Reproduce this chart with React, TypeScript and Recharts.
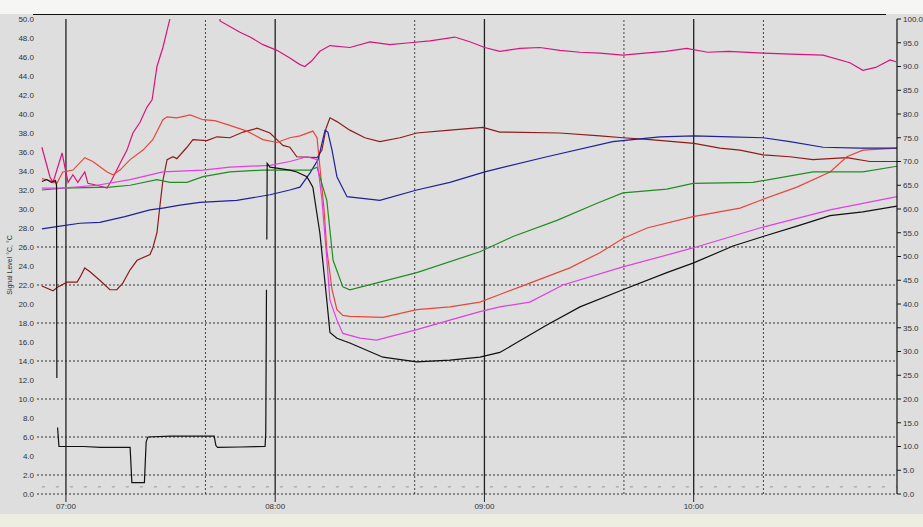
import React from 'react';
import { LineChart, Line, XAxis, YAxis, ReferenceLine } from 'recharts';

// time in minutes after 07:00
const timeTicks = [0, 60, 120, 180];
const timeLabels = ['07:00', '08:00', '09:00', '10:00'];
const minorTimes = [40, 100, 160, 200];
const gridLevels = [0, 2, 6, 10, 14, 18, 22, 26];
const leftTicks = [0, 2, 4, 6, 8, 10, 12, 14, 16, 18, 20, 22, 24, 26, 28, 30, 32, 34, 36, 38, 40, 42, 44, 46, 48, 50];
const rightTicks = [0, 5, 10, 15, 20, 25, 30, 35, 40, 45, 50, 55, 60, 65, 70, 75, 80, 85, 90, 95, 100];

const crimsonSeries: [number, number][] = [
  [-6.9, 36.5], [-4.6, 33.4], [-3.7, 32.8], [-1.1, 35.9], [-0.3, 34.4], [0.6, 32.8], [2.0, 33.6], [3.4, 32.8],
  [5.4, 33.9], [6.3, 32.7], [8.9, 32.5], [11.8, 32.2], [13.2, 33.1], [15.5, 34.8], [17.5, 36.2], [19.2, 38.0],
  [21.2, 39.1], [23.2, 40.7], [24.7, 41.5], [26.1, 45.0], [27.8, 47.0], [29.0, 48.8], [29.8, 50.0], [30.4, 52.0],
  [44.0, 52.0], [44.2, 49.8], [47.0, 49.2], [49.9, 48.6], [52.8, 48.1], [56.5, 47.3], [60.5, 46.7], [64.2, 45.9],
  [67.1, 45.2], [68.5, 45.0], [70.5, 45.6], [72.8, 46.6], [75.7, 47.2], [81.4, 47.0], [87.2, 47.6], [92.9, 47.3],
  [98.6, 47.5], [104.4, 47.7], [111.5, 48.1], [115.8, 47.6], [120.1, 47.0], [124.4, 46.6], [130.2, 46.9],
  [135.9, 47.0], [141.6, 46.7], [147.4, 46.5], [153.1, 46.4], [159.7, 46.2], [166.0, 46.4], [172.0, 46.6],
  [178.0, 46.9], [184.0, 46.5], [190.0, 46.6], [199.9, 46.4], [208.0, 46.3], [217.1, 46.2], [224.8, 45.4],
  [228.5, 44.6], [232.2, 44.9], [236.3, 45.7], [238.0, 45.5],
];

const redSeries: [number, number][] = [
  [-6.9, 33.2], [-4.6, 33.0], [-2.6, 32.7], [-0.9, 33.9], [2.0, 34.1], [5.4, 35.4], [7.7, 35.0], [11.8, 33.9],
  [13.5, 33.6], [15.5, 34.1], [18.4, 35.2], [22.1, 36.2], [24.9, 37.3], [27.8, 39.4], [29.0, 39.7], [31.8, 39.6],
  [35.6, 39.9], [39.3, 39.4], [42.7, 39.3], [47.0, 38.8], [51.9, 38.2], [56.5, 37.3], [60.5, 37.0], [64.2, 37.5],
  [67.1, 37.7], [70.8, 38.2], [72.0, 37.5], [72.8, 34.5], [74.0, 30.0], [74.8, 25.7], [76.3, 21.5], [77.7, 19.4],
  [79.4, 18.8], [81.4, 18.7], [90.9, 18.6], [100.6, 19.4], [110.1, 19.7], [118.7, 20.2], [124.4, 21.0],
  [133.0, 22.2], [144.5, 23.8], [153.1, 25.4], [159.7, 26.9], [166.6, 28.0], [179.8, 29.2], [193.3, 30.1],
  [199.0, 30.9], [209.6, 32.3], [219.1, 33.9], [223.9, 35.5], [228.5, 36.2], [238.3, 36.4],
];

const maroonSeries: [number, number][] = [
  [-6.9, 21.9], [-3.7, 21.4], [-2.3, 21.8], [0.3, 22.3], [3.2, 22.3], [4.0, 22.8], [5.4, 23.8], [6.9, 23.4],
  [9.7, 22.5], [12.6, 21.5], [14.6, 21.5], [16.3, 22.2], [18.4, 23.6], [20.4, 24.6], [24.1, 25.2], [24.9, 25.9],
  [26.1, 27.5], [27.0, 30.5], [27.8, 33.0], [29.0, 35.2], [30.7, 35.5], [31.8, 35.3], [34.7, 36.5], [36.4, 37.3],
  [40.4, 37.2], [43.3, 37.6], [47.0, 37.5], [50.8, 38.1], [54.8, 38.5], [58.5, 38.0], [60.5, 37.3], [62.2, 36.7],
  [64.2, 36.5], [66.2, 35.5], [72.0, 35.4], [73.4, 36.2], [74.6, 38.5], [75.7, 39.6], [77.7, 39.2], [81.4, 38.3],
  [85.7, 37.5], [90.0, 37.1], [95.8, 37.5], [100.6, 38.0], [110.1, 38.3], [119.6, 38.6], [124.4, 38.1],
  [141.6, 38.0], [153.1, 37.7], [159.7, 37.5], [167.5, 37.3], [180.1, 36.9], [187.5, 36.4], [193.3, 36.2],
  [199.9, 35.7], [207.6, 35.5], [214.2, 35.2], [223.9, 35.4], [230.5, 35.0], [238.3, 35.0],
];

const blueSeries: [number, number][] = [
  [-6.9, 27.9], [-1.7, 28.2], [4.0, 28.5], [9.7, 28.6], [16.9, 29.2], [24.1, 29.9], [27.8, 30.1], [32.7, 30.4],
  [38.4, 30.7], [49.0, 30.9], [58.5, 31.5], [64.2, 32.0], [67.1, 32.3], [70.0, 33.8], [72.3, 35.2], [74.3, 38.3],
  [75.1, 38.1], [76.3, 36.2], [77.7, 33.4], [80.6, 31.3], [90.0, 30.9], [100.6, 32.0], [110.1, 32.8],
  [120.1, 33.9], [124.4, 34.3], [137.9, 35.5], [156.8, 37.1], [170.3, 37.6], [180.1, 37.7], [190.4, 37.6],
  [199.9, 37.5], [207.6, 37.1], [217.1, 36.5], [227.7, 36.4], [238.3, 36.4],
];

const magentaSeries: [number, number][] = [
  [-6.9, 32.2], [-0.9, 32.2], [8.9, 32.5], [18.4, 33.1], [27.8, 33.9], [39.3, 34.1], [47.0, 34.4], [58.5, 34.6],
  [64.2, 35.0], [69.1, 35.5], [72.0, 35.2], [73.4, 31.0], [74.6, 25.7], [75.7, 20.4], [77.7, 18.3], [79.4, 16.9],
  [84.3, 16.4], [89.1, 16.2], [100.6, 17.3], [110.1, 18.3], [118.7, 19.2], [124.4, 19.7], [133.0, 20.2],
  [142.5, 22.0], [159.7, 23.9], [179.8, 25.9], [199.9, 28.1], [219.1, 29.9], [238.3, 31.3],
];

const greenSeries: [number, number][] = [
  [-6.9, 32.0], [-0.9, 32.2], [12.6, 32.3], [18.4, 32.5], [26.1, 33.1], [29.8, 32.8], [34.7, 32.8], [39.3, 33.4],
  [47.0, 33.9], [56.5, 34.1], [70.0, 34.1], [72.0, 34.4], [74.8, 30.9], [76.6, 24.6], [79.4, 21.8], [81.4, 21.5],
  [100.6, 23.3], [118.7, 25.5], [128.2, 27.1], [140.8, 28.8], [152.3, 30.6], [159.7, 31.7], [172.3, 32.1],
  [179.8, 32.7], [197.0, 32.8], [214.2, 33.9], [228.5, 33.9], [238.3, 34.5],
];

// null marks a break in the recorded trace
const blackSeries: [number, number | null][] = [
  [-6.9, 32.9], [-5.5, 33.1], [-4.2, 32.8], [-3.0, 33.0], [-2.7, 32.5], [-2.6, 12.2], [-2.55, null],
  [-2.4, 7.0], [-2.0, 5.0],
  [5.0, 5.0], [10.0, 4.9], [18.4, 4.9], [18.9, 1.2], [22.5, 1.2], [23.0, 5.5], [23.5, 6.0], [30.0, 6.1],
  [42.5, 6.1], [43.0, 5.1], [43.5, 4.9], [50.0, 4.95], [57.1, 5.0], [57.3, 6.5], [57.5, 21.5], [57.55, null],
  [57.6, 26.8], [57.7, 34.8],
  [58.5, 34.4], [60.5, 34.3], [64.2, 34.1], [66.2, 33.9], [69.1, 33.4], [70.8, 32.3], [72.8, 27.5], [74.8, 20.4],
  [75.7, 17.0], [77.7, 16.4], [81.4, 15.9], [90.9, 14.4], [100.6, 13.9], [110.1, 14.1], [118.7, 14.4],
  [124.4, 14.9], [128.2, 15.7], [137.9, 17.8], [147.4, 19.7], [159.7, 21.5], [172.3, 23.3], [179.8, 24.3],
  [191.3, 26.1], [199.9, 27.1], [209.6, 28.2], [219.1, 29.3], [228.5, 29.7], [238.3, 30.3],
];

// faint dotted baseline trace (right axis)
const baselineSeries: [number, number][] = [[-6.9, 1.5], [238.3, 1.5]];

const toRows = (s: [number, number | null][]) => s.map(([t, v]) => ({ t, v }));

const W = 923;
const H = 527;
const tickStyle = { fontSize: 8, fill: '#333', fontFamily: 'Liberation Sans, Arial, sans-serif' };

export default function App() {
  const series = [
    { data: crimsonSeries, color: '#d8147c' },
    { data: maroonSeries, color: '#8e1b1b' },
    { data: redSeries, color: '#e8463c' },
    { data: blueSeries, color: '#20209a' },
    { data: greenSeries, color: '#218c21' },
    { data: magentaSeries, color: '#e23fe2' },
    { data: blackSeries, color: '#111111' },
  ];
  return (
    <div style={{ position: 'absolute', left: 0, top: 0, width: W, height: H, background: '#f6f6f4', overflow: 'hidden' }}>
      <div style={{ position: 'absolute', left: 0, top: 14, width: W, height: 500, background: '#dedede' }} />
      <div style={{ position: 'absolute', left: 0, top: 514, width: W, height: 13, background: '#eeede1' }} />
      <div style={{ position: 'absolute', left: 0, top: 0 }}>
        <LineChart width={W} height={H} margin={{ top: 19, right: 0, bottom: 13, left: 0 }}>
          <XAxis
            dataKey="t"
            type="number"
            domain={[-8.3, 238.3]}
            ticks={timeTicks}
            tickFormatter={(v: number) => timeLabels[timeTicks.indexOf(v)] ?? ''}
            axisLine={false}
            tickSize={8}
            tickMargin={1}
            tickLine={{ stroke: '#222' }}
            tick={tickStyle}
            height={20}
            allowDataOverflow
          />
          <YAxis
            yAxisId="left"
            orientation="left"
            domain={[0, 50]}
            ticks={leftTicks}
            tickFormatter={(v: number) => v.toFixed(1)}
            axisLine={false}
            tickLine={false}
            tickSize={0}
            tickMargin={3}
            tick={tickStyle}
            width={37}
            interval={0}
            allowDataOverflow
          />
          <YAxis
            yAxisId="right"
            orientation="right"
            domain={[0, 100]}
            ticks={rightTicks}
            tickFormatter={(v: number) => v.toFixed(1)}
            axisLine={{ stroke: '#111', strokeWidth: 1.2 }}
            tickLine={{ stroke: '#111' }}
            tickSize={4}
            tickMargin={2}
            tick={tickStyle}
            width={26}
            interval={0}
            allowDataOverflow
          />
          {gridLevels.map((g) => (
            <ReferenceLine key={'h' + g} yAxisId="left" y={g} stroke="#333" strokeDasharray="2 2" strokeWidth={1} />
          ))}
          {minorTimes.map((t) => (
            <ReferenceLine key={'m' + t} yAxisId="left" x={t} stroke="#444" strokeDasharray="2 2" strokeWidth={1} />
          ))}
          {timeTicks.map((t) => (
            <ReferenceLine key={'s' + t} yAxisId="left" x={t} stroke="#222" strokeWidth={1.3} />
          ))}
          <Line
            yAxisId="right"
            data={toRows(baselineSeries)}
            dataKey="v"
            stroke="#8a9a8a"
            strokeWidth={1}
            strokeDasharray="3 11"
            dot={false}
            isAnimationActive={false}
            type="linear"
          />
          {series.map((s, i) => (
            <Line
              key={i}
              yAxisId="left"
              data={toRows(s.data)}
              dataKey="v"
              stroke={s.color}
              strokeWidth={1.2}
              dot={false}
              isAnimationActive={false}
              type="linear"
            />
          ))}
        </LineChart>
      </div>
      <svg style={{ position: 'absolute', left: 0, top: 0 }} width={W} height={H}>
        <line x1={33} y1={14.5} x2={886} y2={14.5} stroke="#111" strokeWidth={1} />
        <text
          x={10}
          y={265}
          transform="rotate(-90 10 265)"
          textAnchor="middle"
          dominantBaseline="middle"
          style={{ fontSize: 7, fill: '#333', fontFamily: 'Liberation Sans, Arial, sans-serif' }}
        >
          Signal Level °C, °C
        </text>
      </svg>
    </div>
  );
}
